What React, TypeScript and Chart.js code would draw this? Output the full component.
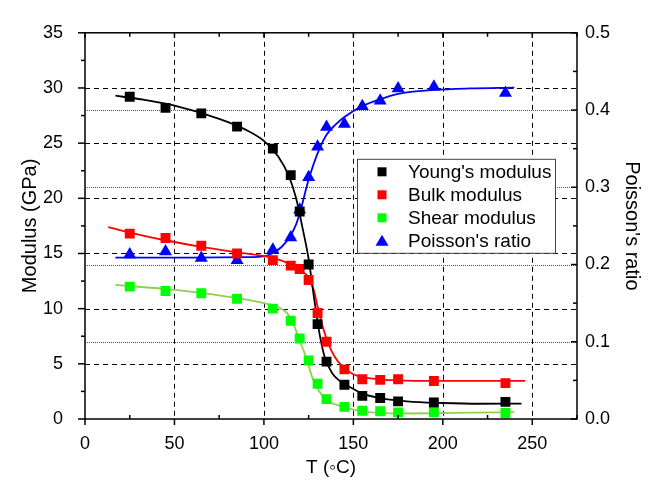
import React, { useEffect, useRef } from "react";
import { Chart, registerables } from "chart.js";

Chart.register(...registerables);

// ---- data ----
const TEMPS = [25, 45, 65, 85, 105, 115, 120, 125, 130, 135, 145, 155, 165, 175, 195, 235];
const YOUNG = [29.2, 28.2, 27.7, 26.5, 24.5, 22.1, 18.8, 14.0, 8.6, 5.2, 3.1, 2.1, 1.9, 1.6, 1.5, 1.55];
const BULK = [16.8, 16.4, 15.7, 15.0, 14.4, 13.9, 13.6, 12.6, 9.6, 7.0, 4.5, 3.6, 3.55, 3.6, 3.45, 3.25];
const SHEAR = [12.0, 11.6, 11.4, 10.9, 10.0, 8.9, 7.3, 5.3, 3.2, 1.8, 1.1, 0.75, 0.7, 0.6, 0.6, 0.55];
const POISSON = [0.213, 0.217, 0.2085, 0.2055, 0.219, 0.235, 0.271, 0.313, 0.3525, 0.378, 0.382, 0.405, 0.412, 0.428, 0.43, 0.422];

// fitted curves
const YOUNG_FIT_T = [17, 30, 50, 75, 90, 100, 108, 114, 118, 122, 125, 128, 131, 134, 138, 142, 148, 155, 165, 180, 200, 220, 244];
const YOUNG_FIT = [29.3, 29.0, 28.4, 27.2, 26.2, 25.2, 23.8, 22.0, 20.0, 17.0, 14.5, 11.0, 7.8, 5.6, 4.2, 3.5, 2.9, 2.3, 1.9, 1.6, 1.45, 1.38, 1.4];
const BULK_FIT_T = [13, 25, 45, 65, 85, 105, 115, 120, 125, 128, 130, 133, 135, 138, 141, 145, 150, 155, 165, 175, 195, 220, 246];
const BULK_FIT = [17.4, 16.9, 16.2, 15.6, 15.1, 14.6, 14.0, 13.5, 12.8, 11.6, 10.2, 8.3, 7.3, 6.1, 5.3, 4.6, 4.05, 3.8, 3.6, 3.5, 3.45, 3.45, 3.45];
const SHEAR_FIT_T = [17, 50, 75, 100, 109, 113, 116, 120, 124, 127, 131, 136, 145, 150, 160, 175, 195, 215, 240];
const SHEAR_FIT = [12.15, 11.7, 11.2, 10.5, 10.05, 9.6, 8.8, 7.1, 5.4, 3.8, 2.5, 1.6, 1.1, 0.85, 0.6, 0.5, 0.52, 0.58, 0.62];
const POISSON_FIT_T = [17, 60, 90, 100, 105, 110, 115, 118, 120, 125, 130, 135, 140, 145, 155, 165, 175, 195, 215, 240];
const POISSON_FIT = [0.209, 0.209, 0.2095, 0.2105, 0.215, 0.223, 0.238, 0.252, 0.266, 0.31, 0.344, 0.368, 0.381, 0.391, 0.405, 0.414, 0.421, 0.426, 0.428, 0.429];

const SERIES_NAMES = ["Young's modulus", "Bulk modulus", "Shear modulus", "Poisson's ratio"];
const X_TITLE = "T (\u25E6C)";
const Y_TITLE = "Modulus (GPa)";
const Y2_TITLE = "Poisson's ratio";

const FONT = '"Liberation Sans", Arial, sans-serif';

const pairs = (xs: number[], ys: number[]) => xs.map((x, i) => ({ x, y: ys[i] }));

const axesPlugin = {
  id: "axesFrame",
  beforeDatasetsDraw(chart: any) {
    const { ctx, chartArea: a, scales } = chart;
    const sx = scales.x, sy = scales.y, sy2 = scales.y2;
    ctx.save();
    ctx.lineWidth = 1;
    // dotted grid for right axis
    ctx.strokeStyle = "#555";
    ctx.setLineDash([1, 1]);
    sy2.ticks.forEach((t: any) => {
      if (t.value <= sy2.min + 1e-9 || t.value >= sy2.max - 1e-9) return;
      const py = Math.round(sy2.getPixelForValue(t.value)) + 0.5;
      ctx.beginPath(); ctx.moveTo(a.left, py); ctx.lineTo(a.right, py); ctx.stroke();
    });
    // dashed grid for left & bottom axes
    ctx.strokeStyle = "#000";
    ctx.setLineDash([5, 4]);
    sy.ticks.forEach((t: any) => {
      if (t.value <= sy.min || t.value >= sy.max) return;
      const py = Math.round(sy.getPixelForValue(t.value)) + 0.5;
      ctx.beginPath(); ctx.moveTo(a.left, py); ctx.lineTo(a.right, py); ctx.stroke();
    });
    sx.ticks.forEach((t: any) => {
      if (t.value <= sx.min || t.value >= sx.max) return;
      const px = Math.round(sx.getPixelForValue(t.value)) + 0.5;
      ctx.beginPath(); ctx.moveTo(px, a.top); ctx.lineTo(px, a.bottom); ctx.stroke();
    });
    ctx.restore();
  },
  afterDatasetsDraw(chart: any) {
    const { ctx, chartArea: a, scales } = chart;
    const sx = scales.x, sy = scales.y, sy2 = scales.y2;
    ctx.save();
    ctx.strokeStyle = "#000";
    ctx.lineWidth = 1.5;
    ctx.setLineDash([]);
    const line = (x1: number, y1: number, x2: number, y2: number) => {
      ctx.beginPath(); ctx.moveTo(x1, y1); ctx.lineTo(x2, y2); ctx.stroke();
    };
    for (let v = sx.min; v <= sx.max + 1e-9; v += 25) {
      const px = sx.getPixelForValue(v);
      const major = Math.abs(v % 50) < 1e-9;
      if (major) line(px, a.bottom, px, a.bottom + 6);
      else line(px, a.bottom, px, a.bottom - 4);
      line(px, a.top, px, a.top + (major ? 5 : 4));
    }
    for (let v = sy.min; v <= sy.max + 1e-9; v += 2.5) {
      const py = sy.getPixelForValue(v);
      const major = Math.abs(v % 5) < 1e-9;
      line(a.left - (major ? 7 : 4), py, a.left, py);
    }
    for (let k = 0; k <= 10; k++) {
      const py = sy2.getPixelForValue(k * 0.05);
      line(a.right - (k % 2 === 0 ? 6 : 4), py, a.right, py);
    }
    ctx.strokeRect(a.left, a.top, a.right - a.left, a.bottom - a.top);

    // legend
    const lx = a.left + 272, ly = a.top + 126, lw = 198, lh = 94;
    ctx.fillStyle = "#fff";
    ctx.fillRect(lx, ly, lw, lh);
    ctx.lineWidth = 1;
    ctx.strokeStyle = "#444";
    ctx.strokeRect(lx + 0.5, ly + 0.5, lw, lh);
    const colors = ["#000000", "#ff0000", "#00ff00", "#0000ff"];
    ctx.font = `19px ${FONT}`;
    ctx.textBaseline = "middle";
    ctx.textAlign = "left";
    SERIES_NAMES.forEach((name, i) => {
      const cy = ly + 13 + i * 23;
      const mx = lx + 25;
      ctx.fillStyle = colors[i];
      if (i < 3) {
        ctx.fillRect(mx - 4.5, cy - 4.5, 9, 9);
      } else {
        ctx.beginPath();
        ctx.moveTo(mx, cy - 6);
        ctx.lineTo(mx + 6.5, cy + 5);
        ctx.lineTo(mx - 6.5, cy + 5);
        ctx.closePath();
        ctx.fill();
      }
      ctx.fillStyle = "#000";
      ctx.fillText(name, lx + 51, cy + 1);
    });
    ctx.restore();
  },
};

export default function App() {
  const ref = useRef<HTMLCanvasElement | null>(null);
  useEffect(() => {
    if (!ref.current) return;
    const markerBase = { showLine: false, pointBorderWidth: 0, order: 1 };
    const curveBase = {
      showLine: true,
      pointRadius: 0,
      pointHoverRadius: 0,
      borderWidth: 1.8,
      cubicInterpolationMode: "monotone" as const,
      order: 5,
    };
    const chart = new Chart(ref.current, {
      type: "scatter",
      data: {
        datasets: [
          { ...curveBase, data: pairs(YOUNG_FIT_T, YOUNG_FIT), borderColor: "#000000", yAxisID: "y" },
          { ...curveBase, data: pairs(BULK_FIT_T, BULK_FIT), borderColor: "#ff0000", yAxisID: "y" },
          { ...curveBase, data: pairs(SHEAR_FIT_T, SHEAR_FIT), borderColor: "#8cd24e", yAxisID: "y" },
          { ...curveBase, data: pairs(POISSON_FIT_T, POISSON_FIT), borderColor: "#0000ff", yAxisID: "y2" },
          { ...markerBase, label: SERIES_NAMES[0], data: pairs(TEMPS, YOUNG), pointStyle: "rect", pointRadius: 7, backgroundColor: "#000000", borderColor: "#000000", yAxisID: "y" },
          { ...markerBase, label: SERIES_NAMES[1], data: pairs(TEMPS, BULK), pointStyle: "rect", pointRadius: 7, backgroundColor: "#ff0000", borderColor: "#ff0000", yAxisID: "y" },
          { ...markerBase, label: SERIES_NAMES[2], data: pairs(TEMPS, SHEAR), pointStyle: "rect", pointRadius: 7, backgroundColor: "#00ff00", borderColor: "#00ff00", yAxisID: "y" },
          { ...markerBase, label: SERIES_NAMES[3], data: pairs(TEMPS, POISSON), pointStyle: "triangle", pointRadius: 7.5, backgroundColor: "#0000ff", borderColor: "#0000ff", yAxisID: "y2" },
        ] as any,
      },
      options: {
        responsive: false,
        animation: false,
        events: [],
        layout: { padding: { top: 19, left: 0, right: 0, bottom: 0 } },
        plugins: { legend: { display: false }, tooltip: { enabled: false } },
        scales: {
          x: {
            type: "linear",
            position: "bottom",
            min: 0,
            max: 275,
            grid: { display: false, drawTicks: false },
            border: { display: false },
            ticks: { stepSize: 50, includeBounds: false, color: "#000", font: { size: 18, family: FONT }, padding: 14, maxRotation: 0 },
            title: { display: true, text: X_TITLE, color: "#000", font: { size: 19, family: FONT }, padding: { top: 0, bottom: 1 } },
            afterFit: (s: any) => { s.height = 61; },
          },
          y: {
            type: "linear",
            position: "left",
            min: 0,
            max: 35,
            grid: { display: false, drawTicks: false },
            border: { display: false },
            ticks: { stepSize: 5, color: "#000", font: { size: 18, family: FONT }, padding: 22 },
            title: { display: true, text: Y_TITLE, color: "#000", font: { size: 20, family: FONT }, padding: { top: 18, bottom: 0 } },
            afterFit: (s: any) => { s.width = 85; },
          },
          y2: {
            type: "linear",
            position: "right",
            min: 0,
            max: 0.5,
            grid: { display: false, drawTicks: false },
            border: { display: false },
            ticks: {
              stepSize: 0.1,
              color: "#000",
              font: { size: 18, family: FONT },
              padding: 8,
              callback: (v: any) => Number(v).toFixed(1),
            },
            title: { display: true, text: Y2_TITLE, color: "#000", font: { size: 20, family: FONT }, padding: { top: 12, bottom: 0 } },
            afterFit: (s: any) => { s.width = 79; },
          },
        },
      },
      plugins: [axesPlugin],
    });
    return () => chart.destroy();
  }, []);

  return (
    <div style={{ position: "fixed", left: 0, top: 0, width: 656, height: 480, background: "#fff" }}>
      <canvas ref={ref} width={656} height={480} style={{ display: "block" }} />
    </div>
  );
}
